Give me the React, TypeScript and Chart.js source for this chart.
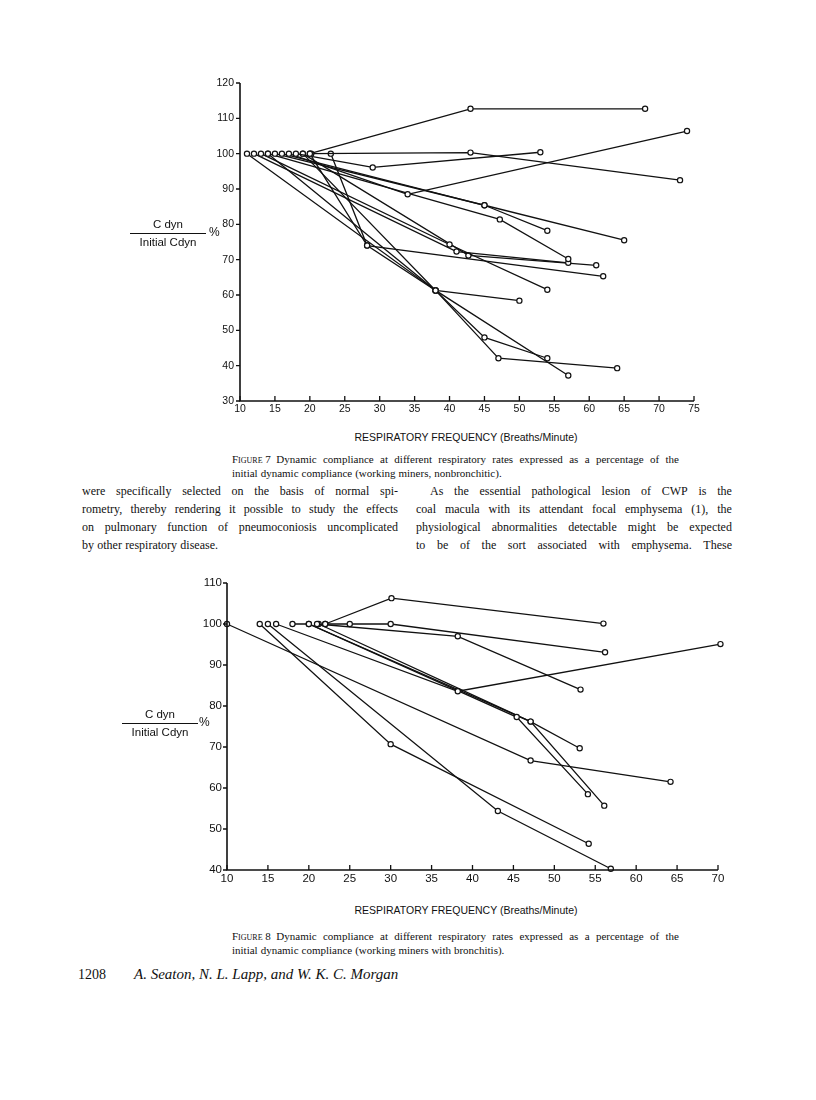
import React, { useEffect, useRef } from "react";
import { Chart, registerables } from "chart.js";

Chart.register(...registerables);

// ---------- Figure 7 (working miners, nonbronchitic) ----------
const fig7Freq: number[][] = [
  [20, 43, 68],
  [20.2, 43, 73],
  [18, 29, 53],
  [17, 34, 74],
  [16, 45, 54],
  [15, 45, 65],
  [14, 47.2, 57],
  [13, 40, 54],
  [12, 41, 57],
  [19, 42.7, 61],
  [23, 28.2, 62],
  [11, 38, 50],
  [14, 38, 45, 54],
  [20, 28.2, 38, 47, 64],
  [19, 38, 57],
];
const fig7Pct: number[][] = [
  [100, 112.7, 112.7],
  [100, 100.3, 92.5],
  [100, 96.1, 100.4],
  [100, 88.5, 106.4],
  [100, 85.4, 78.2],
  [100, 85.4, 75.5],
  [100, 81.4, 70.2],
  [100, 74.3, 61.5],
  [100, 72.3, 69.1],
  [100, 71.2, 68.4],
  [100, 74, 65.3],
  [100, 61.3, 58.4],
  [100, 61.3, 48, 42.1],
  [100, 74, 61.3, 42.1, 39.3],
  [100, 61.3, 37.2],
];
const fig7XTicks = [10, 15, 20, 25, 30, 35, 40, 45, 50, 55, 60, 65, 70, 75];
const fig7YTicks = [30, 40, 50, 60, 70, 80, 90, 100, 110, 120];

// ---------- Figure 8 (working miners with bronchitis) ----------
const fig8Freq: number[][] = [
  [22, 30.1, 56],
  [22, 25, 30, 56.2],
  [21, 38.2, 53.2],
  [16, 38.2, 70.3],
  [18, 20, 45.4, 54.1],
  [20, 47.1, 56.1],
  [21.2, 47.1, 53.1],
  [10, 47.1, 64.2],
  [14, 30, 54.2],
  [15, 43.1, 56.9],
];
const fig8Pct: number[][] = [
  [100, 106.3, 100.1],
  [100, 100, 100, 93.1],
  [100, 97, 84],
  [100, 83.6, 95.1],
  [100, 100, 77.3, 58.5],
  [100, 76.2, 55.7],
  [100, 76.2, 69.7],
  [100, 66.7, 61.5],
  [100, 70.7, 46.4],
  [100, 54.4, 40.3],
];
const fig8XTicks = [10, 15, 20, 25, 30, 35, 40, 45, 50, 55, 60, 65, 70];
const fig8YTicks = [40, 50, 60, 70, 80, 90, 100, 110];

const INK = "#111";
const SANS = "'Liberation Sans', Arial, sans-serif";
const Y_BOX = 44;
const X_BOX = 24;

const paperAxes = {
  id: "paperAxes",
  afterDatasetsDraw(chart: any) {
    const { ctx, chartArea: a, scales } = chart;
    ctx.save();
    ctx.strokeStyle = INK;
    ctx.lineWidth = 1.6;
    ctx.beginPath();
    ctx.moveTo(a.left, a.top);
    ctx.lineTo(a.left, a.bottom);
    ctx.lineTo(a.right, a.bottom);
    ctx.stroke();
    ctx.lineWidth = 1.3;
    ctx.beginPath();
    for (const t of scales.x.ticks) {
      const p = scales.x.getPixelForValue(t.value);
      ctx.moveTo(p, a.bottom);
      ctx.lineTo(p, a.bottom - 5);
    }
    for (const t of scales.y.ticks) {
      const p = scales.y.getPixelForValue(t.value);
      ctx.moveTo(a.left - 4, p);
      ctx.lineTo(a.left, p);
    }
    ctx.stroke();
    ctx.restore();
  },
};

type ChartProps = {
  freq: number[][];
  pct: number[][];
  xTicks: number[];
  yTicks: number[];
  top: number;
  height: number;
  area: { left: number; right: number; top: number; bottom: number };
  fontSize: number;
  yPad: number;
  xPad: number;
};

function PaperChart(p: ChartProps) {
  const ref = useRef<HTMLCanvasElement>(null);
  useEffect(() => {
    if (!ref.current) return;
    const datasets = p.freq.map((xs, i) => ({
      data: xs.map((x, j) => ({ x, y: p.pct[i][j] })),
      showLine: true,
      borderColor: INK,
      borderWidth: 1.3,
      pointRadius: 2.6,
      pointBorderWidth: 1.2,
      pointBackgroundColor: "#fff",
      pointBorderColor: INK,
      tension: 0,
      fill: false,
      clip: false as any,
    }));
    const font = { family: SANS, size: p.fontSize };
    const chart = new Chart(ref.current, {
      type: "scatter",
      data: { datasets },
      options: {
        animation: false,
        responsive: false,
        devicePixelRatio: 1,
        layout: {
          padding: {
            left: p.area.left - Y_BOX,
            right: 816 - p.area.right,
            top: p.area.top - p.top,
            bottom: p.top + p.height - p.area.bottom - X_BOX,
          },
        },
        plugins: { legend: { display: false }, tooltip: { enabled: false } },
        scales: {
          x: {
            type: "linear",
            min: p.xTicks[0],
            max: p.xTicks[p.xTicks.length - 1],
            afterBuildTicks: (s: any) => {
              s.ticks = p.xTicks.map((v) => ({ value: v }));
            },
            afterFit: (s: any) => {
              s.height = X_BOX;
            },
            grid: { display: false, drawTicks: false },
            border: { display: false },
            ticks: {
              font,
              color: INK,
              padding: p.xPad,
              maxRotation: 0,
              autoSkip: false,
              callback: (v: any) => String(v),
            },
          },
          y: {
            type: "linear",
            min: p.yTicks[0],
            max: p.yTicks[p.yTicks.length - 1],
            afterBuildTicks: (s: any) => {
              s.ticks = p.yTicks.map((v) => ({ value: v }));
            },
            afterFit: (s: any) => {
              s.width = Y_BOX;
            },
            grid: { display: false, drawTicks: false },
            border: { display: false },
            ticks: {
              font,
              color: INK,
              padding: p.yPad,
              autoSkip: false,
              callback: (v: any) => String(v),
            },
          },
        },
      },
      plugins: [paperAxes],
    });
    return () => chart.destroy();
  }, []);
  return (
    <canvas
      ref={ref}
      width={816}
      height={p.height}
      style={{ position: "absolute", left: 0, top: p.top, width: 816, height: p.height }}
    />
  );
}

function JLine(props: { words: React.ReactNode[]; left: number; top: number; width: number; size: number; justify?: boolean }) {
  const { words, left, top, width, size, justify = true } = props;
  return (
    <div
      style={{
        position: "absolute",
        left,
        top,
        width,
        display: "flex",
        justifyContent: justify ? "space-between" : "flex-start",
        gap: justify ? 0 : size * 0.27,
        fontSize: size,
        lineHeight: `${Math.round(size * 1.2)}px`,
        whiteSpace: "nowrap",
      }}
    >
      {words.map((w, i) => (
        <span key={i}>{w}</span>
      ))}
    </div>
  );
}

const split = (s: string) => s.split(" ");

function YTitle(props: { cx: number; lineY: number; pctLeft: number }) {
  return (
    <>
      <div
        style={{
          position: "absolute",
          left: props.cx - 38,
          top: props.lineY - 15,
          width: 76,
          textAlign: "center",
          fontFamily: SANS,
          fontSize: 11.5,
          lineHeight: "13px",
          color: INK,
        }}
      >
        <div style={{ paddingBottom: 2 }}>C dyn</div>
        <div style={{ borderTop: `1.3px solid ${INK}`, paddingTop: 2 }}>Initial Cdyn</div>
      </div>
      <div
        style={{
          position: "absolute",
          left: props.pctLeft,
          top: props.lineY - 8,
          fontFamily: SANS,
          fontSize: 12,
          lineHeight: "14px",
          color: INK,
        }}
      >
        %
      </div>
    </>
  );
}

function XTitle(props: { cx: number; top: number }) {
  return (
    <div
      style={{
        position: "absolute",
        left: props.cx - 160,
        width: 320,
        top: props.top,
        textAlign: "center",
        fontFamily: SANS,
        fontSize: 10.5,
        lineHeight: "13px",
        color: INK,
      }}
    >
      RESPIRATORY FREQUENCY (Breaths/Minute)
    </div>
  );
}

export default function App() {
  const sc = (t: string) => <span style={{ fontVariant: "small-caps" }}>{t}</span>;
  return (
    <div
      style={{
        position: "absolute",
        left: 0,
        top: 0,
        width: 816,
        height: 1100,
        background: "#fff",
        color: INK,
        fontFamily: "'Liberation Serif', 'Times New Roman', serif",
        overflow: "hidden",
      }}
    >
      <PaperChart
        freq={fig7Freq}
        pct={fig7Pct}
        xTicks={fig7XTicks}
        yTicks={fig7YTicks}
        top={60}
        height={370}
        area={{ left: 240, right: 694, top: 83, bottom: 401 }}
        fontSize={10.5}
        yPad={6}
        xPad={2}
      />
      <YTitle cx={168} lineY={233} pctLeft={209} />
      <XTitle cx={466} top={431} />

      <JLine
        words={[<>{sc("Figure 7")}&nbsp;&nbsp;Dynamic</>, ...split("compliance at different respiratory rates expressed as a percentage of the")]}
        left={232}
        top={453}
        width={447}
        size={11}
      />
      <JLine
        words={split("initial dynamic compliance (working miners, nonbronchitic).")}
        left={232}
        top={467}
        width={447}
        size={11}
        justify={false}
      />

      <JLine words={split("were specifically selected on the basis of normal spi-")} left={82} top={484} width={316} size={12} />
      <JLine words={split("rometry, thereby rendering it possible to study the effects")} left={82} top={502} width={316} size={12} />
      <JLine words={split("on pulmonary function of pneumoconiosis uncomplicated")} left={82} top={520} width={316} size={12} />
      <JLine words={split("by other respiratory disease.")} left={82} top={538} width={316} size={12} justify={false} />

      <JLine words={split("As the essential pathological lesion of CWP is the")} left={430} top={484} width={302} size={12} />
      <JLine words={split("coal macula with its attendant focal emphysema (1), the")} left={416} top={502} width={316} size={12} />
      <JLine words={split("physiological abnormalities detectable might be expected")} left={416} top={520} width={316} size={12} />
      <JLine words={split("to be of the sort associated with emphysema. These")} left={416} top={538} width={316} size={12} />

      <PaperChart
        freq={fig8Freq}
        pct={fig8Pct}
        xTicks={fig8XTicks}
        yTicks={fig8YTicks}
        top={560}
        height={340}
        area={{ left: 227, right: 718, top: 583, bottom: 870 }}
        fontSize={11.5}
        yPad={5}
        xPad={2}
      />
      <YTitle cx={160} lineY={723} pctLeft={199} />
      <XTitle cx={466} top={904} />

      <JLine
        words={[<>{sc("Figure 8")}&nbsp;&nbsp;Dynamic</>, ...split("compliance at different respiratory rates expressed as a percentage of the")]}
        left={232}
        top={930}
        width={447}
        size={11}
      />
      <JLine
        words={split("initial dynamic compliance (working miners with bronchitis).")}
        left={232}
        top={944}
        width={447}
        size={11}
        justify={false}
      />

      <div style={{ position: "absolute", left: 78, top: 966, fontSize: 14, lineHeight: "17px" }}>1208</div>
      <div style={{ position: "absolute", left: 134, top: 965, fontSize: 15, lineHeight: "18px", fontStyle: "italic" }}>
        A. Seaton, N. L. Lapp, and W. K. C. Morgan
      </div>
    </div>
  );
}
